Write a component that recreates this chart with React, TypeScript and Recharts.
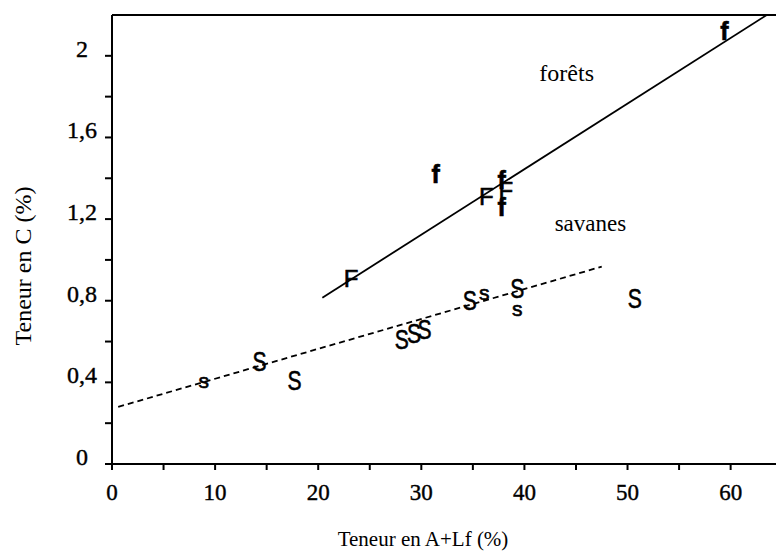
import { ScatterChart, Scatter, XAxis, YAxis, ReferenceLine, ReferenceDot } from 'recharts'

// forêts : teneur en A+Lf (%) / teneur en C (%)
const forestA = [23.2, 31.4, 36.3, 37.8, 38.2, 37.8, 59.4]
const forestC = [0.91, 1.42, 1.31, 1.39, 1.34, 1.26, 2.12]
const forestMark = ['F', 'f', 'F', 'f', 'F', 'f', 'f']

// savanes
const savA = [8.9, 14.3, 17.7, 28.1, 29.3, 30.3, 34.7, 36.1, 39.3, 39.3, 50.7]
const savC = [0.41, 0.5, 0.41, 0.61, 0.64, 0.66, 0.8, 0.84, 0.86, 0.76, 0.81]
const savMark = ['s', 'S', 'S', 'S', 'S', 'S', 'S', 's', 'S', 's', 'S']

// droites de régression (extrémités)
const forestLine = [{ x: 20.4, y: 0.815 }, { x: 63.5, y: 2.2 }]
const savLine = [{ x: 0.6, y: 0.28 }, { x: 47.5, y: 0.967 }]

const xTicks = [0, 5, 10, 15, 20, 25, 30, 35, 40, 45, 50, 55, 60]
const xTickLabels = ['0', '', '10', '', '20', '', '30', '', '40', '', '50', '', '60']
const yTicks = [0, 0.2, 0.4, 0.6, 0.8, 1.0, 1.2, 1.4, 1.6, 1.8, 2.0]
const yTickLabels = ['0', '', '0,4', '', '0,8', '', '1,2', '', '1,6', '', '2']

const forestData = forestA.map((a, i) => ({ a, c: forestC[i], mark: forestMark[i] }))
const savData = savA.map((a, i) => ({ a, c: savC[i], mark: savMark[i] }))

const serif = '"Liberation Serif", "Times New Roman", serif'
const sans = '"Liberation Sans", Arial, sans-serif'

const Letter = (props: any) => {
  const { cx, cy, payload } = props
  const m = payload.mark
  const size = m === 'S' ? 27 : m === 's' ? 21 : m === 'F' ? 24 : 25
  const sx = m === 'S' ? 0.78 : 1
  return (
    <text
      x={cx}
      y={cy}
      textAnchor="middle"
      dominantBaseline="central"
      fontFamily={sans}
      fontWeight={m === 'f' ? 'bold' : 'normal'}
      fontSize={size}
      fill="#000"
      stroke="#000"
      strokeWidth={0.6}
      transform={sx !== 1 ? `translate(${cx} ${cy}) scale(${sx} 1) translate(${-cx} ${-cy})` : undefined}
    >
      {m}
    </text>
  )
}

const XTick = ({ x, y, index }: any) => (
  <text x={x} y={y + 28} textAnchor="middle" fontFamily={serif} fontSize={23} fill="#000" stroke="#000" strokeWidth={0.4}>
    {xTickLabels[index] ?? ''}
  </text>
)

const YTick = ({ y, index }: any) => (
  <text x={82} y={y + 1} textAnchor="middle" fontFamily={serif} fontSize={24} fill="#000" stroke="#000" strokeWidth={0.4}>
    {yTickLabels[index] ?? ''}
  </text>
)

export default function App() {
  return (
    <div style={{ position: 'absolute', left: 0, top: 0, background: '#fff' }}>
      <ScatterChart width={776} height={554} margin={{ top: 15, right: 0, bottom: 0, left: 0 }}>
        <XAxis
          type="number"
          dataKey="a"
          domain={[0, 64.4]}
          ticks={xTicks}
          allowDataOverflow
          height={90}
          stroke="#000"
          strokeWidth={2}
          tickSize={6}
          tick={<XTick />}
          label={{
            content: () => (
              <text x={423} y={546} textAnchor="middle" fontFamily={serif} fontSize={21} fill="#000">
                Teneur en A+Lf (%)
              </text>
            ),
          }}
        />
        <YAxis
          type="number"
          dataKey="c"
          domain={[0, 2.2]}
          ticks={yTicks}
          allowDataOverflow
          width={112}
          stroke="#000"
          strokeWidth={2}
          tickSize={7}
          tick={<YTick />}
          label={{
            content: () => (
              <text
                x={23}
                y={266}
                textAnchor="middle"
                dominantBaseline="central"
                transform="rotate(-90 23 266)"
                fontFamily={serif}
                fontSize={24}
                fill="#000"
              >
                Teneur en C (%)
              </text>
            ),
          }}
        />
        <ReferenceLine y={2.2} stroke="#000" strokeWidth={2} />
        <ReferenceLine segment={forestLine} stroke="#000" strokeWidth={1.8} />
        <ReferenceLine segment={savLine} stroke="#000" strokeWidth={1.8} strokeDasharray="6 4" />
        <ReferenceDot x={44.1} y={1.92} r={0} fill="none" stroke="none"
          label={{ value: 'forêts', position: 'center', fontFamily: serif, fontSize: 24, fill: '#000' }} />
        <ReferenceDot x={46.4} y={1.18} r={0} fill="none" stroke="none"
          label={{ value: 'savanes', position: 'center', fontFamily: serif, fontSize: 23, fill: '#000' }} />
        <Scatter data={forestData} shape={<Letter />} isAnimationActive={false} />
        <Scatter data={savData} shape={<Letter />} isAnimationActive={false} />
      </ScatterChart>
    </div>
  )
}
